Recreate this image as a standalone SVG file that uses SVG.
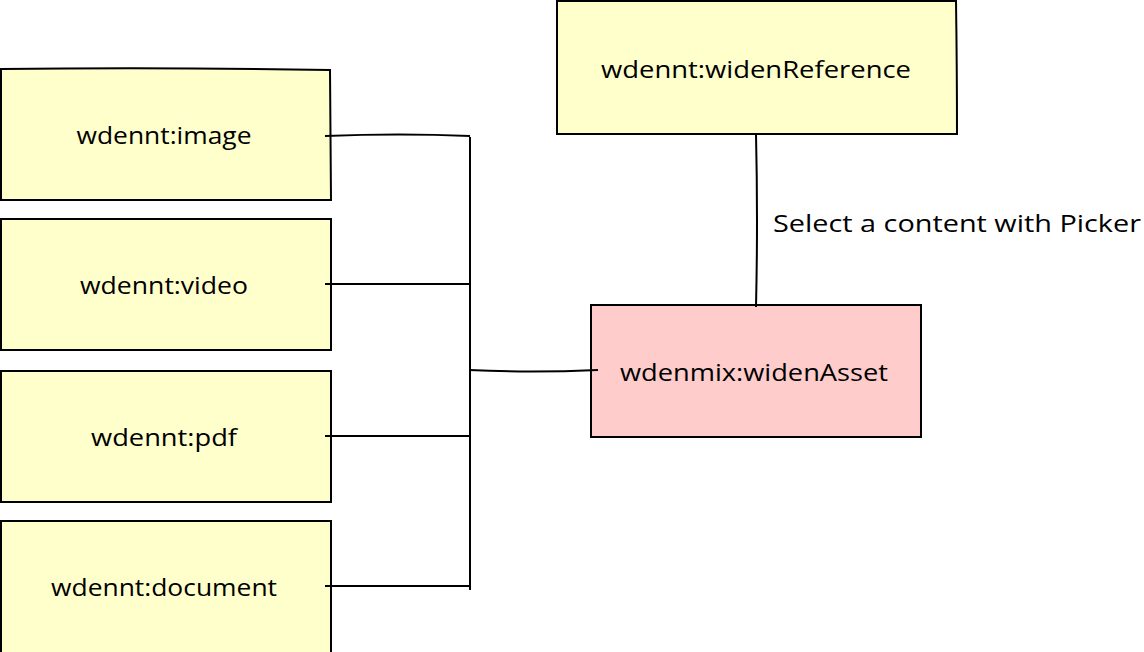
<svg xmlns="http://www.w3.org/2000/svg" width="1144" height="652" viewBox="0 0 1144 652">
<style>
.box{stroke:#000;stroke-width:2;}
.y{fill:#ffffcc;}
.p{fill:#ffcccc;}
.t{font-family:"Open Sans","DejaVu Sans",sans-serif;font-size:24px;fill:#000;text-anchor:middle;dominant-baseline:central;}
.lbl{font-family:"Open Sans","DejaVu Sans",sans-serif;font-size:24px;fill:#000;dominant-baseline:central;}
.c{fill:none;stroke:#000;stroke-width:2;}
</style>
<rect width="1144" height="652" fill="#fff"/>
<g id="image">
<path class="box y" d="M1,69 Q160,67 330,70 L331,200 L1,200 Z"/>
<text class="t" x="164" y="134" textLength="175" lengthAdjust="spacingAndGlyphs">wdennt:image</text>
</g>
<g id="video">
<path class="box y" d="M1,219 L331,219 L331,350 L1,350 Z"/>
<text class="t" x="164" y="284" textLength="168" lengthAdjust="spacingAndGlyphs">wdennt:video</text>
</g>
<g id="pdf">
<path class="box y" d="M1,371 L331,371 L331,502 L1,502 Z"/>
<text class="t" x="164" y="436" textLength="146" lengthAdjust="spacingAndGlyphs">wdennt:pdf</text>
</g>
<g id="document">
<rect class="y" x="1" y="521" width="330" height="140"/>
<path class="box" fill="none" d="M1,660 L1,521 L331,521 L331,660"/>
<text class="t" x="164" y="586" textLength="226" lengthAdjust="spacingAndGlyphs">wdennt:document</text>
</g>
<g id="widenReference">
<path class="box y" d="M557,1 L956,1 Q957,70 957,134 L557,134 Z"/>
<text class="t" x="756" y="68" textLength="310" lengthAdjust="spacingAndGlyphs">wdennt:widenReference</text>
</g>
<g id="widenAsset">
<rect class="box p" x="591" y="305" width="330" height="132"/>
<text class="t" x="754" y="371" textLength="268" lengthAdjust="spacingAndGlyphs">wdenmix:widenAsset</text>
</g>
<g id="connectors">
<path class="c" d="M325,136 Q400,133 470,136"/>
<path class="c" d="M325,284 L470,284"/>
<path class="c" d="M325,436 L470,436"/>
<path class="c" d="M325,586 L470,586"/>
<path class="c" d="M470,137 L470,590"/>
<path class="c" d="M469,370 Q530,373 598,370"/>
<path class="c" d="M756,134 Q758,220 756,307"/>
<text class="lbl" x="773" y="222" textLength="368" lengthAdjust="spacingAndGlyphs">Select a content with Picker</text>
</g>
</svg>
